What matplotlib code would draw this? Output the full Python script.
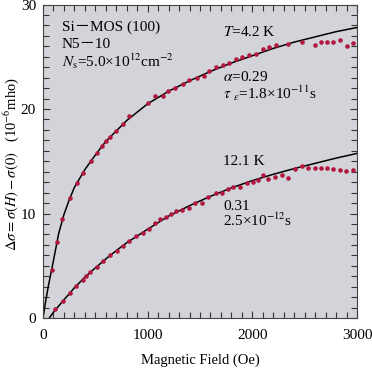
import matplotlib
matplotlib.use("Agg")
import matplotlib.pyplot as plt
from matplotlib.ticker import MultipleLocator

plt.rcParams["font.family"] = ["Liberation Serif", "Noto Sans CJK JP", "DejaVu Serif"]
plt.rcParams["mathtext.fontset"] = "stix"

# ===============================
# DATA
# ===============================
# T = 4.2 K, measured points
x_42 = [83, 131, 185, 258, 322, 379, 455, 516, 561, 602, 640, 697, 761, 822,
        1006, 1070, 1143, 1197, 1261, 1335, 1398, 1468, 1538, 1589, 1653, 1717,
        1780, 1844, 1904, 1971, 2035, 2099, 2162, 2226, 2344, 2472, 2599, 2653,
        2710, 2774, 2838, 2902, 2965]
y_42 = [4.6, 7.3, 9.5, 11.5, 12.9, 13.9, 15.0, 15.8, 16.5, 16.9, 17.3, 17.9, 18.6, 19.3,
        20.6, 21.2, 21.2, 21.7, 22.0, 22.4, 22.8, 23.0, 23.2, 23.6, 24.0, 24.2,
        24.4, 24.8, 25.0, 25.2, 25.3, 25.7, 25.9, 26.1, 26.2, 26.4, 26.1, 26.4,
        26.4, 26.4, 26.6, 26.0, 26.3]

# T = 4.2 K, theory curve
fit_x_42 = [0, 25, 50, 100, 150, 200, 250, 300, 400, 500, 600, 700, 800, 1000,
            1200, 1400, 1600, 1800, 2000, 2200, 2400, 2600, 2800, 3000]
fit_y_42 = [0, 1.6, 3.0, 5.5, 8.1, 9.9, 11.3, 12.5, 14.2, 15.6, 16.9, 17.9, 18.9, 20.5,
            21.7, 22.7, 23.6, 24.4, 25.1, 25.8, 26.4, 26.9, 27.4, 27.8]

# T = 12.1 K, measured points
x_121 = [115, 188, 258, 315, 379, 411, 449, 513, 570, 640, 704, 767, 825, 889, 952,
         1016, 1070, 1118, 1175, 1220, 1271, 1325, 1395, 1452, 1516, 1580, 1653,
         1707, 1771, 1818, 1882, 1946, 2009, 2057, 2105, 2153, 2217, 2280, 2344,
         2408, 2472, 2535, 2599, 2656, 2710, 2774, 2838, 2895, 2965]
y_121 = [0.83, 1.66, 2.43, 3.07, 3.64, 4.06, 4.36, 4.92, 5.45, 6.0, 6.43, 6.9, 7.38, 7.8, 8.1,
         8.5, 9.1, 9.45, 9.7, 9.97, 10.2, 10.35, 10.5, 11.05, 11.05, 11.6, 11.95,
         11.95, 12.3, 12.55, 12.55, 12.9, 13.05, 13.2, 13.7, 13.3, 13.45, 13.65, 13.4,
         14.25, 14.5, 14.35, 14.35, 14.35, 14.4, 14.25, 14.2, 14.05, 14.15]

# T = 12.1 K, theory curve
fit_x_121 = [60, 100, 150, 200, 250, 300, 400, 500, 600, 700, 800, 900, 1000,
             1200, 1400, 1600, 1800, 2000, 2200, 2400, 2600, 2800, 3000]
fit_y_121 = [0, 0.55, 1.15, 1.75, 2.3, 2.9, 3.9, 4.8, 5.65, 6.45, 7.2, 7.85, 8.5,
             9.75, 10.75, 11.65, 12.45, 13.15, 13.75, 14.3, 14.8, 15.3, 15.75]

# ===============================
# PLOT
# ===============================
fig = plt.figure(figsize=(3.72, 3.69), dpi=100)
ax = fig.add_axes([0.1156, 0.1382, 0.8441, 0.8496])
ax.set_facecolor("#d3d4d9")

ax.plot(fit_x_42, fit_y_42, color="black", lw=1.1, zorder=2)
ax.plot(fit_x_121, fit_y_121, color="black", lw=1.1, zorder=2)
ax.plot(x_42, y_42, "o", color="#b3173f", ms=3.3, mec="none", zorder=3)
ax.plot(x_121, y_121, "o", color="#b3173f", ms=3.3, mec="none", zorder=3)

ax.set_xlim(0, 3000)
ax.set_ylim(0, 30)
ax.xaxis.set_major_locator(MultipleLocator(1000))
ax.xaxis.set_minor_locator(MultipleLocator(100))
ax.yaxis.set_major_locator(MultipleLocator(10))
ax.yaxis.set_minor_locator(MultipleLocator(1))
ax.tick_params(which="both", direction="in", top=True, right=True,
               labelsize=11, width=0.8, color="#333333")
ax.tick_params(which="major", length=5)
ax.tick_params(which="minor", length=4)
ax.tick_params(axis="x", which="both", pad=8)
ax.tick_params(axis="y", which="both", pad=5)
for s in ax.spines.values():
    s.set_linewidth(0.8)
    s.set_color("#444444")

ax.set_xlabel("Magnetic Field (Oe)", fontsize=10.5, labelpad=8)
ax.set_ylabel(r"$\Delta\sigma=\sigma(H)-\sigma(0)$   (10$^{-6}$mho)", fontsize=10.5)
ax.yaxis.set_label_coords(-0.07, 0.49)

fs = 11
ax.text(0.06, 0.926, "Si－MOS (100)", transform=ax.transAxes, fontsize=fs, va="center")
ax.text(0.06, 0.874, "N5－10", transform=ax.transAxes, fontsize=fs, va="center")
ax.text(0.06, 0.82, r"$N_{\rm s}$=5.0×10$^{12}$cm$^{-2}$", transform=ax.transAxes,
        fontsize=fs, va="center")

ax.text(0.573, 0.912, r"$T$=4.2 K", transform=ax.transAxes, fontsize=fs, va="center")
ax.text(0.573, 0.768, r"$\alpha$=0.29", transform=ax.transAxes, fontsize=fs, va="center")
ax.text(0.573, 0.716, r"$\tau$ $_{\varepsilon}$=1.8×10$^{-11}$s", transform=ax.transAxes,
        fontsize=fs, va="center")
ax.text(0.573, 0.5, "12.1 K", transform=ax.transAxes, fontsize=fs, va="center")
ax.text(0.573, 0.357, "0.31", transform=ax.transAxes, fontsize=fs, va="center")
ax.text(0.573, 0.31, "2.5×10$^{-12}$s", transform=ax.transAxes, fontsize=fs, va="center")

plt.savefig("out.png", dpi=100)
